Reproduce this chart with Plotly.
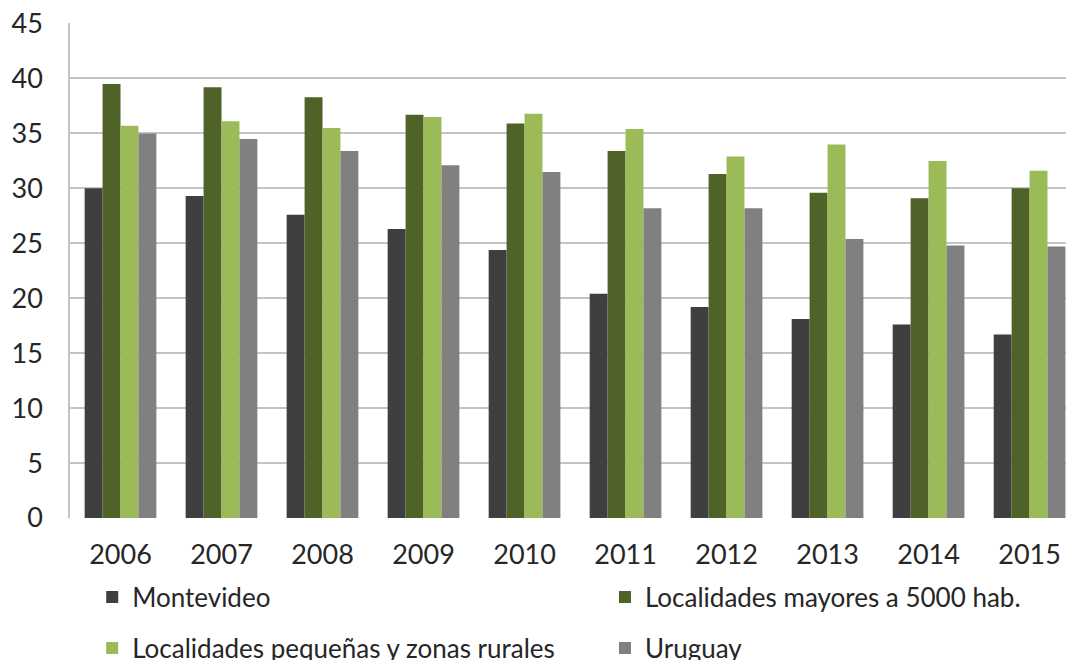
import plotly.graph_objects as go

# Data
years = ['2006', '2007', '2008', '2009', '2010', '2011', '2012', '2013', '2014', '2015']
montevideo = [30.0, 29.3, 27.6, 26.3, 24.4, 20.4, 19.2, 18.1, 17.6, 16.7]
mayores_5000 = [39.5, 39.2, 38.3, 36.7, 35.9, 33.4, 31.3, 29.6, 29.1, 30.0]
pequenas_rurales = [35.7, 36.1, 35.5, 36.5, 36.8, 35.4, 32.9, 34.0, 32.5, 31.6]
uruguay = [35.0, 34.5, 33.4, 32.1, 31.5, 28.2, 28.2, 25.4, 24.8, 24.7]

# one legend per entry so they sit in a 2x2 grid like the original
series = [
    ('Montevideo', montevideo, '#3f3f3f', 'legend', 0.079, 0.0966),
    ('Localidades mayores a 5000 hab.', mayores_5000, '#4f6228', 'legend2', 0.560, 0.0966),
    ('Localidades pequeñas y zonas rurales', pequenas_rurales, '#9bbb59', 'legend3', 0.079, 0.0184),
    ('Uruguay', uruguay, '#808080', 'legend4', 0.560, 0.0184),
]

font = 'Lato, Open Sans, sans-serif'

fig = go.Figure()
legends = {}
for name, vals, color, leg, lx, ly in series:
    fig.add_trace(go.Bar(x=years, y=vals, name=name, marker_color=color,
                         marker_line_width=0, legend=leg, showlegend=True))
    legends[leg] = dict(x=lx, y=ly, xref='container', yref='container',
                        xanchor='left', yanchor='middle', orientation='h',
                        font=dict(family=font, size=26, color='#262626'),
                        bgcolor='rgba(0,0,0,0)', itemclick=False, visible=True)

# page body keeps an 8px margin, so the figure is a bit smaller than the window
fig.update_layout(
    width=1066, height=652,
    margin=dict(l=62, r=0, t=15, b=142, autoexpand=False),
    showlegend=True,
    paper_bgcolor='white', plot_bgcolor='white',
    barmode='group', bargap=0.29, bargroupgap=0,
    font=dict(family=font, color='#262626'),
    xaxis=dict(range=[-0.5, 9.44], showgrid=False, showline=False,
               automargin=False, tickfont=dict(size=27), ticks='',
               ticklabelstandoff=18),
    yaxis=dict(range=[0, 45.05], tickvals=[0, 5, 10, 15, 20, 25, 30, 35, 40, 45],
               showgrid=True, gridcolor='#c4c4c4',
               gridwidth=1.5, showline=True, linecolor='#c4c4c4', linewidth=1.5,
               zeroline=False, automargin=False, tickfont=dict(size=27),
               ticks='', ticklabelstandoff=20, ticklabeloverflow='allow'),
    **legends,
)

fig.write_html('out.html')
